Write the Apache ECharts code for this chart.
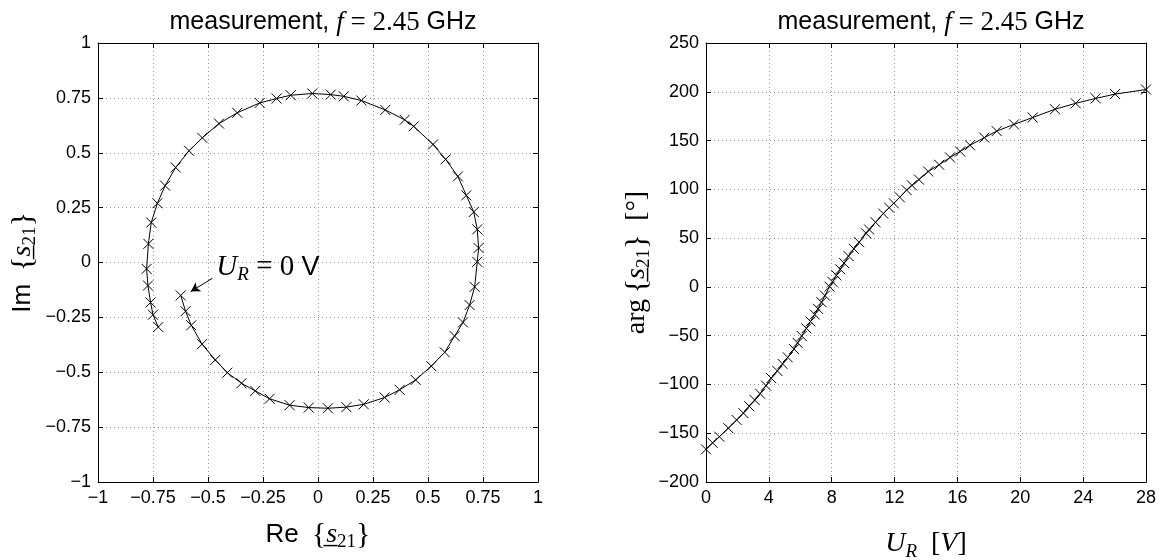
<!DOCTYPE html>
<html><head><meta charset="utf-8">
<script src="https://cdn.jsdelivr.net/npm/echarts@6/dist/echarts.min.js"></script>
<style>html,body{margin:0;padding:0;background:#fff}#c{width:1163px;height:560px}</style>
</head><body><div id="c"></div>
<script>
// ---- data ----
const reS21 = [-0.624,-0.602,-0.576,-0.527,-0.467,-0.412,-0.348,-0.285,-0.220,-0.129,-0.042,0.045,0.129,0.208,0.303,0.371,0.444,0.515,0.576,0.621,0.659,0.689,0.712,0.724,0.730,0.724,0.708,0.674,0.636,0.580,0.523,0.435,0.394,0.306,0.197,0.117,0.058,-0.026,-0.124,-0.188,-0.265,-0.367,-0.450,-0.526,-0.586,-0.647,-0.695,-0.730,-0.758,-0.771,-0.779,-0.773,-0.761,-0.750,-0.726];
const imS21 = [-0.150,-0.222,-0.286,-0.372,-0.444,-0.502,-0.550,-0.585,-0.621,-0.650,-0.661,-0.664,-0.659,-0.646,-0.615,-0.580,-0.535,-0.472,-0.409,-0.335,-0.273,-0.194,-0.111,0.003,0.066,0.151,0.230,0.306,0.392,0.470,0.538,0.620,0.650,0.695,0.738,0.757,0.765,0.770,0.762,0.747,0.727,0.682,0.633,0.568,0.509,0.433,0.350,0.270,0.182,0.085,-0.029,-0.105,-0.182,-0.238,-0.294];
const uR = [0,0.42,0.85,1.42,1.95,2.38,2.75,3.10,3.44,3.82,4.15,4.54,4.87,5.20,5.60,5.83,6.09,6.39,6.65,6.92,7.13,7.35,7.57,7.86,8.05,8.30,8.54,8.79,9.07,9.41,9.74,10.19,10.38,10.79,11.28,11.66,11.95,12.33,12.77,13.11,13.55,14.14,14.84,15.53,16.17,16.80,17.71,18.50,19.60,20.79,22.21,23.53,24.80,26.03,28.0];
const argS21 = [-166.5,-159.8,-153.6,-144.8,-136.4,-129.4,-122.3,-116.0,-109.5,-101.2,-93.6,-86.1,-78.9,-72.2,-63.8,-57.4,-50.3,-42.5,-35.4,-28.3,-22.5,-15.7,-8.9,0.2,5.2,11.8,18.0,24.4,31.6,39.0,45.8,54.9,58.8,66.2,75.1,81.2,85.7,91.9,99.2,104.1,110.0,118.3,125.2,132.7,138.8,145.2,153.0,159.7,166.6,173.6,182.1,188.2,193.2,197.6,202.3];
const reImTicks = [-1,-0.75,-0.5,-0.25,0,0.25,0.5,0.75,1];
const uTicks = [0,4,8,12,16,20,24,28];
const argTicks = [-200,-150,-100,-50,0,50,100,150,200,250];
const titleText = 'measurement, ';

// ---- styling helpers ----
const SANS = 'Liberation Sans', SERIF = 'Liberation Serif';
function rich(size){
  const lh = Math.round(size*1.3), ss = Math.round(size*0.72);
  return {
    sans:{fontFamily:SANS,fontWeight:'normal',fontSize:size,color:'#000',lineHeight:lh},
    it:{fontFamily:SERIF,fontWeight:'normal',fontStyle:'italic',fontSize:size+2,color:'#000',lineHeight:lh},
    mr:{fontFamily:SERIF,fontWeight:'normal',fontSize:size+2,color:'#000',lineHeight:lh},
    br:{fontFamily:SERIF,fontWeight:'normal',fontSize:size+4,color:'#000',lineHeight:lh},
    sub:{fontFamily:SERIF,fontWeight:'normal',fontSize:ss,color:'#000',verticalAlign:'bottom',lineHeight:ss},
    subi:{fontFamily:SERIF,fontWeight:'normal',fontStyle:'italic',fontSize:ss,color:'#000',verticalAlign:'bottom',lineHeight:ss}
  };
}
const minus = v => String(v).replace('-', '\u2212');
const X = 'path://M0,0L10,10M10,0L0,10';
const step = a => a[1]-a[0];

function mainAxis(pos, ticks, gridIndex, nameText, nameGap, nameSize){
  return {
    type:'value', gridIndex, position:pos, min:ticks[0], max:ticks[ticks.length-1], interval:step(ticks),
    axisLine:{show:true,onZero:false,lineStyle:{color:'#000',width:1}},
    axisTick:{show:true,inside:true,length:5,lineStyle:{color:'#000'}},
    axisLabel:{show:true,margin:7,color:'#000',fontFamily:SANS,fontSize:18,formatter:minus},
    splitLine:{show:true,lineStyle:{color:'#999',type:[1,3],width:1}},
    name:nameText, nameLocation:'middle', nameGap,
    nameTextStyle:{fontFamily:SERIF,fontWeight:'normal',fontSize:nameSize+4,color:'#000',rich:rich(nameSize)}
  };
}
function frameAxis(pos, ticks, gridIndex){
  return {
    type:'value', gridIndex, position:pos, min:ticks[0], max:ticks[ticks.length-1], interval:step(ticks),
    axisLine:{show:true,onZero:false,lineStyle:{color:'#000',width:1}},
    axisTick:{show:true,inside:true,length:5,lineStyle:{color:'#000'}},
    axisLabel:{show:false}, splitLine:{show:false}
  };
}

const chart = echarts.init(document.getElementById('c'), null, {renderer:'canvas'});
const titleRich = rich(25);
const titleStr = '{sans|' + titleText + '}{it|f}{mr| = 2.45 }{sans|GHz}';
const sName = '{br|{}{it|s\u0332}{sub|21}}';
chart.setOption({
  animation:false,
  backgroundColor:'#fff',
  title:[
    {text:titleStr,left:318,top:1,textAlign:'center',textStyle:{fontWeight:'normal',rich:titleRich}},
    {text:titleStr,left:926,top:1,textAlign:'center',textStyle:{fontWeight:'normal',rich:titleRich}}
  ],
  grid:[
    {left:98,top:43,width:440,height:439,containLabel:false,outerBoundsMode:'none'},
    {left:706,top:43,width:440,height:439,containLabel:false,outerBoundsMode:'none'}
  ],
  xAxis:[
    mainAxis('bottom',reImTicks,0,'{sans|Re\u2002}' + sName,36,26),
    frameAxis('top',reImTicks,0),
    mainAxis('bottom',uTicks,1,'{it|U}{subi|R}{mr|\u2002[}{it|V}{mr|]}',45,26),
    frameAxis('top',uTicks,1)
  ],
  yAxis:[
    mainAxis('left',reImTicks,0,'{sans|Im\u2002}' + sName,58,26),
    frameAxis('right',reImTicks,0),
    mainAxis('left',argTicks,1,'{mr|arg\u2009}' + sName + '{mr|\u2002[\u00b0]}',52,26),
    frameAxis('right',argTicks,1)
  ],
  series:[
    {
      type:'line', xAxisIndex:0, yAxisIndex:0,
      data:reS21.map((r,i)=>[r,imS21[i]]),
      symbol:X, symbolSize:10, showAllSymbol:true,
      lineStyle:{color:'#000',width:1},
      itemStyle:{color:'none',borderColor:'#000',borderWidth:1},
      markLine:{
        silent:true, symbol:['none','arrow'], symbolSize:[8,9],
        lineStyle:{color:'#000',width:1,type:'solid'}, label:{show:false},
        data:[[{coord:[-0.48,-0.072]},{coord:[-0.578,-0.132]}]]
      },
      markPoint:{
        silent:true, symbol:'circle', symbolSize:0,
        label:{show:true,position:'right',distance:0,formatter:'{it|U}{subi|R}{mr| = 0 }{sans|V}',rich:rich(27)},
        data:[{coord:[-0.462,-0.022]}]
      }
    },
    {
      type:'line', xAxisIndex:2, yAxisIndex:2,
      data:uR.map((u,i)=>[u,argS21[i]]),
      symbol:X, symbolSize:10, showAllSymbol:true,
      lineStyle:{color:'#000',width:1},
      itemStyle:{color:'none',borderColor:'#000',borderWidth:1}
    }
  ]
});
</script></body></html>
